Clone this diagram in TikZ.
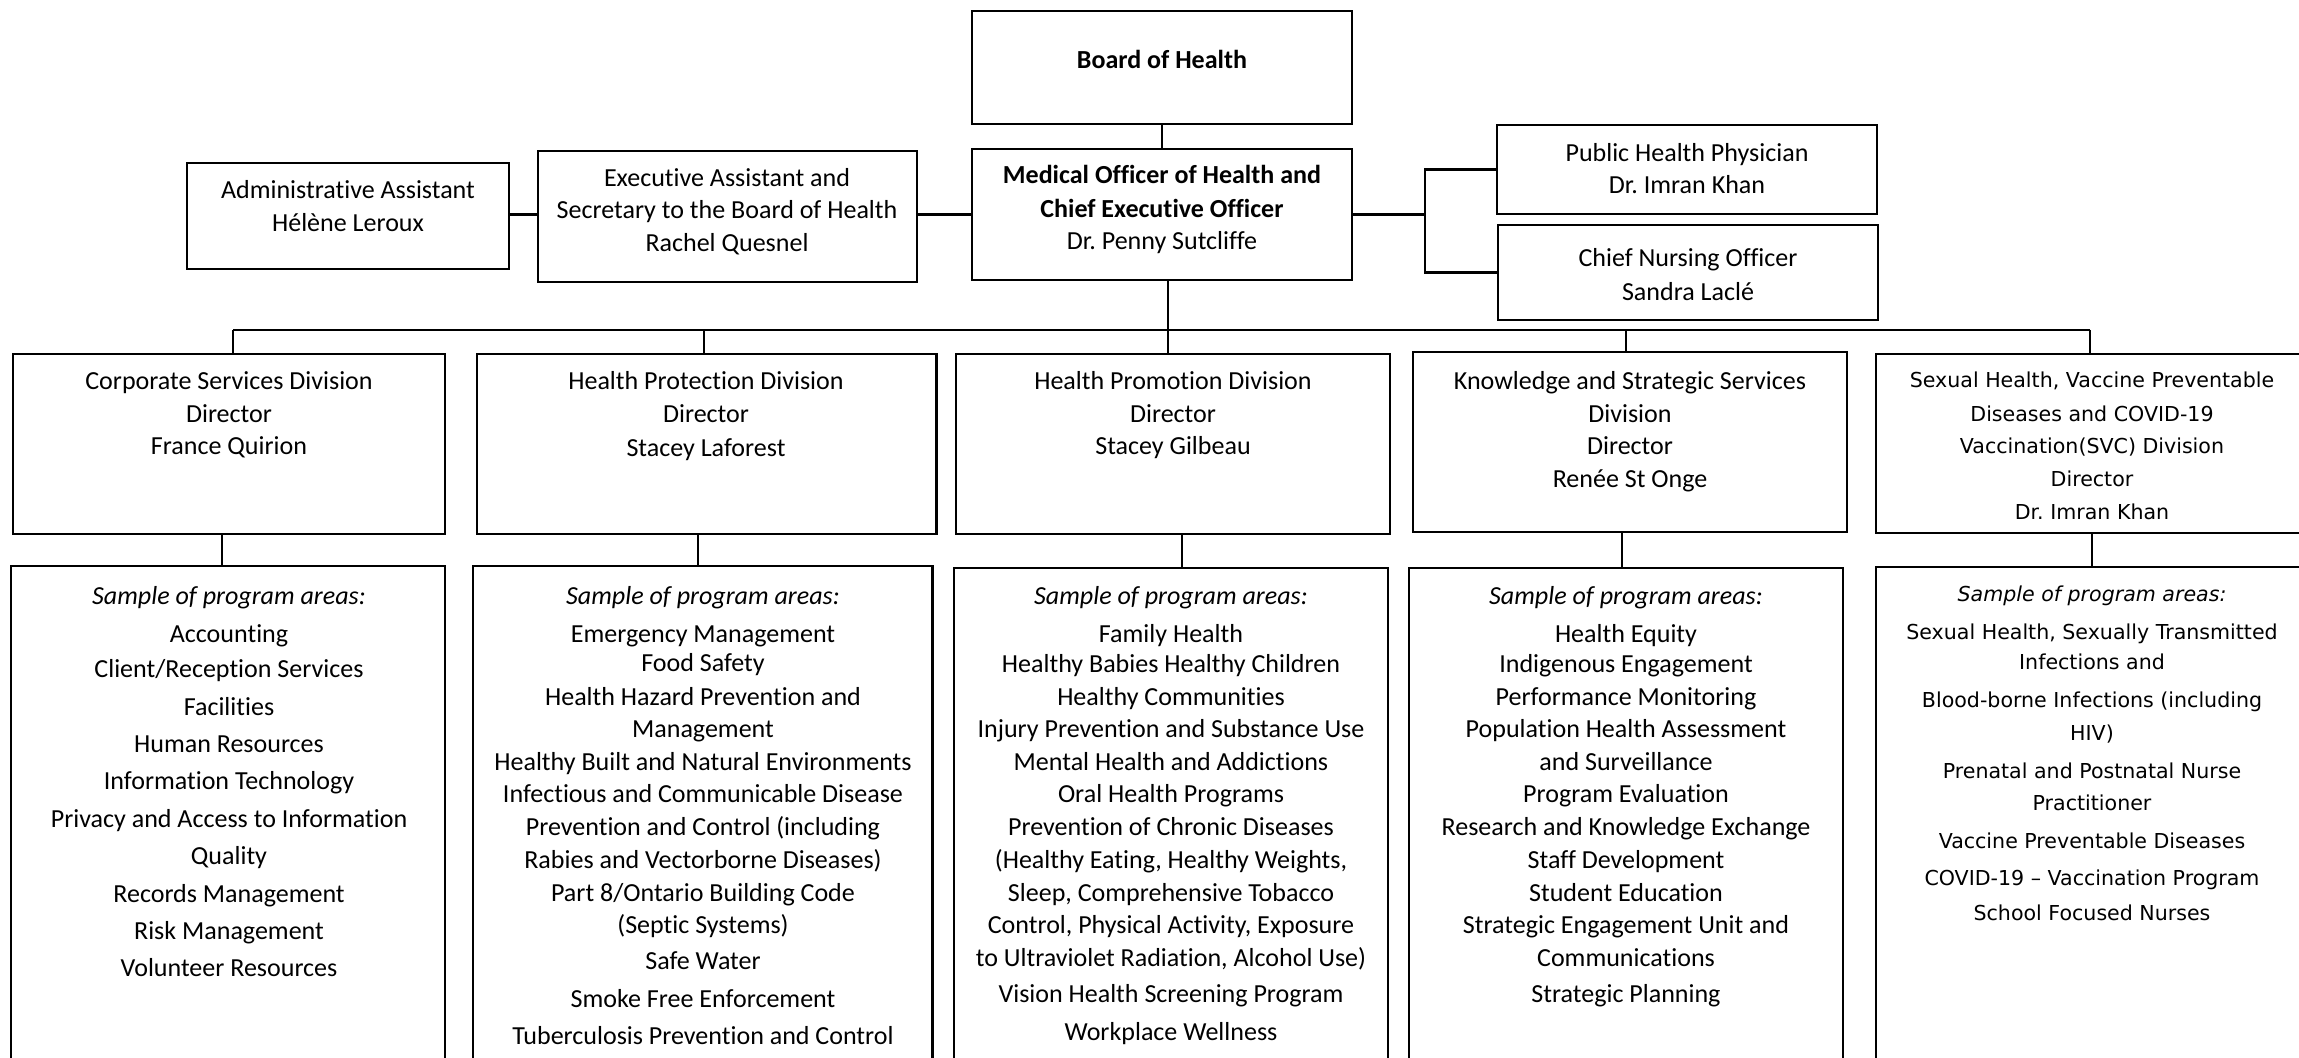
\documentclass[tikz,border=0pt]{standalone}
\usepackage{fontspec}
\setmainfont{Carlito}[Ligatures={NoCommon}]
\newfontfamily\verdfont{DejaVu Sans}
\frenchspacing
\begin{document}
\begin{tikzpicture}[x=0.01cm,y=-0.01cm,
  box/.style={draw=black,line width=0.7pt,inner sep=0pt,outer sep=0pt,anchor=north west,rectangle},
  txt/.style={inner sep=0pt,outer sep=0pt,anchor=base,yshift=-0.4pt,text=black,font=\frenchspacing\fontsize{7.4}{9}\selectfont},
  btxt/.style={txt,font=\frenchspacing\fontsize{7.4}{9}\selectfont\bfseries},
  itxt/.style={txt,font=\frenchspacing\fontsize{7.4}{9}\selectfont\itshape},
  vtxt/.style={txt,font=\frenchspacing\verdfont\fontsize{5.85}{7}\selectfont},
  vitxt/.style={txt,font=\frenchspacing\verdfont\fontsize{5.85}{7}\selectfont\itshape},
  conn/.style={line width=0.7pt,draw=black}]
\useasboundingbox (0,0) rectangle (2299,1058);
\clip (0,0) rectangle (2299,1058);
% ---------- boxes ----------
\node[box,minimum width=3.80cm,minimum height=1.13cm] (Board) at (972,11) {};
\node[box,minimum width=3.80cm,minimum height=1.31cm] (MOH) at (972,149) {};
\node[box,minimum width=3.79cm,minimum height=1.31cm] (Exec) at (538,151) {};
\node[box,minimum width=3.22cm,minimum height=1.06cm] (Admin) at (187,163) {};
\node[box,minimum width=3.80cm,minimum height=0.89cm] (PHP) at (1497,125) {};
\node[box,minimum width=3.80cm,minimum height=0.95cm] (CNO) at (1498,225) {};
\node[box,minimum width=4.32cm,minimum height=1.80cm] (CorpD) at (13,354) {};
\node[box,minimum width=4.59cm,minimum height=1.80cm] (HPD) at (477,354) {};
\node[box,minimum width=4.34cm,minimum height=1.80cm] (HPrD) at (956,354) {};
\node[box,minimum width=4.34cm,minimum height=1.80cm] (KSSD) at (1413,352) {};
\node[box,minimum width=4.32cm,minimum height=1.79cm] (SVCD) at (1876,354) {};
\node[box,minimum width=4.34cm,minimum height=5.20cm] (CorpP) at (11,566) {};
\node[box,minimum width=4.59cm,minimum height=5.20cm] (HPP) at (473,566) {};
\node[box,minimum width=4.34cm,minimum height=5.18cm] (HPrP) at (954,568) {};
\node[box,minimum width=4.34cm,minimum height=5.18cm] (KSSP) at (1409,568) {};
\node[box,minimum width=4.32cm,minimum height=5.19cm] (SVCP) at (1876,567) {};
% ---------- connectors ----------
\draw[conn] (Board.south) -- (MOH.north);
\coordinate (hl) at (MOH.west);
\draw[conn] (Admin.east |- hl) -- (Exec.west |- hl);
\draw[conn] (Exec.east |- hl) -- (MOH.west);
\coordinate (rv) at (1425,0);
\draw[conn] (MOH.east) -- (MOH.east -| rv);
\draw[conn] (PHP.west) -- (PHP.west -| rv) -- (CNO.west -| rv) -- (CNO.west);
\coordinate (b1) at (233,330);
\coordinate (b2) at (704,330);
\coordinate (b3) at (1168,330);
\coordinate (b4) at (1626,330);
\coordinate (b5) at (2090,330);
\draw[conn] (b1) -- (b5);
\draw[conn] (MOH.south -| b3) -- (b3);
\draw[conn] (b1) -- (b1 |- CorpD.north);
\draw[conn] (b2) -- (b2 |- HPD.north);
\draw[conn] (b3) -- (b3 |- HPrD.north);
\draw[conn] (b4) -- (b4 |- KSSD.north);
\draw[conn] (b5) -- (b5 |- SVCD.north);
\coordinate (c1) at (222,0);
\coordinate (c2) at (698,0);
\coordinate (c3) at (1182,0);
\coordinate (c4) at (1622,0);
\coordinate (c5) at (2092,0);
\draw[conn] (CorpD.south -| c1) -- (CorpP.north -| c1);
\draw[conn] (HPD.south -| c2) -- (HPP.north -| c2);
\draw[conn] (HPrD.south -| c3) -- (HPrP.north -| c3);
\draw[conn] (KSSD.south -| c4) -- (KSSP.north -| c4);
\draw[conn] (SVCD.south -| c5) -- (SVCP.north -| c5);
% ---------- top texts ----------
\node[btxt] (tBoard) at (1162,67) {Board of Health};
\node[txt] (tAdmin1) at (348,197) {Administrative Assistant};
\node[txt] (tAdmin2) at (348,230) {Hélène Leroux};
\node[txt] (tExec1) at (727,185) {Executive Assistant and};
\node[txt] (tExec2) at (727,217) {Secretary to the Board of Health};
\node[txt] (tExec3) at (727,250) {Rachel Quesnel};
\node[btxt] (tMOH1) at (1162,182) {Medical Officer of Health and};
\node[btxt] (tMOH2) at (1162,216) {Chief Executive Officer};
\node[txt] (tMOH3) at (1162,248) {Dr. Penny Sutcliffe};
\node[txt] (tPHP1) at (1687,160) {Public Health Physician};
\node[txt] (tPHP2) at (1687,192) {Dr. Imran Khan};
\node[txt] (tCNO1) at (1688,265) {Chief Nursing Officer};
\node[txt] (tCNO2) at (1688,299) {Sandra Laclé};
% ---------- division headers ----------
\foreach \yy/\lbl [count=\idx] in {388/Corporate Services Division,421/Director,453/France Quirion}
  \node[txt] (tCorpD\idx) at (229,\yy) {\lbl};
\foreach \yy/\lbl [count=\idx] in {388/Health Protection Division,421/Director,455/Stacey Laforest}
  \node[txt] (tHPD\idx) at (706,\yy) {\lbl};
\foreach \yy/\lbl [count=\idx] in {388/Health Promotion Division,421/Director,453/Stacey Gilbeau}
  \node[txt] (tHPrD\idx) at (1173,\yy) {\lbl};
\foreach \yy/\lbl [count=\idx] in {388/Knowledge and Strategic Services,421/Division,453/Director,486/Renée St Onge}
  \node[txt] (tKSSD\idx) at (1630,\yy) {\lbl};
\foreach \yy/\lbl [count=\idx] in {386/{Sexual Health, Vaccine Preventable},420/Diseases and COVID-19,452/Vaccination(SVC) Division,485/Director,518/Dr. Imran Khan}
  \node[vtxt] (tSVCD\idx) at (2092,\yy) {\lbl};
% ---------- program areas ----------
\node[itxt] (tCorpT) at (229,603) {Sample of program areas:};
\foreach \yy/\lbl [count=\idx] in {641/Accounting,676/{Client/Reception Services},714/Facilities,751/Human Resources,788/Information Technology,826/Privacy and Access to Information,863/Quality,901/Records Management,938/Risk Management,975/Volunteer Resources}
  \node[txt] (tCorpP\idx) at (229,\yy) {\lbl};
\node[itxt] (tHPT) at (703,603) {Sample of program areas:};
\foreach \yy/\lbl [count=\idx] in {641/Emergency Management,670/Food Safety,704/Health Hazard Prevention and,736/Management,769/Healthy Built and Natural Environments,801/Infectious and Communicable Disease,834/Prevention and Control (including,867/Rabies and Vectorborne Diseases),900/{Part 8/Ontario Building Code},932/(Septic Systems),968/Safe Water,1006/Smoke Free Enforcement,1043/Tuberculosis Prevention and Control}
  \node[txt] (tHPP\idx) at (703,\yy) {\lbl};
\node[itxt] (tHPrT) at (1171,603) {Sample of program areas:};
\foreach \yy/\lbl [count=\idx] in {641/Family Health,671/Healthy Babies Healthy Children,704/Healthy Communities,736/Injury Prevention and Substance Use,769/Mental Health and Addictions,801/Oral Health Programs,834/Prevention of Chronic Diseases,867/{(Healthy Eating, Healthy Weights,},900/{Sleep, Comprehensive Tobacco},932/{Control, Physical Activity, Exposure},965/{to Ultraviolet Radiation, Alcohol Use)},1001/Vision Health Screening Program,1039/Workplace Wellness}
  \node[txt] (tHPrP\idx) at (1171,\yy) {\lbl};
\node[itxt] (tKSST) at (1626,603) {Sample of program areas:};
\foreach \yy/\lbl [count=\idx] in {641/Health Equity,671/Indigenous Engagement,704/Performance Monitoring,736/Population Health Assessment,769/and Surveillance,801/Program Evaluation,834/Research and Knowledge Exchange,867/Staff Development,900/Student Education,932/Strategic Engagement Unit and,965/Communications,1001/Strategic Planning}
  \node[txt] (tKSSP\idx) at (1626,\yy) {\lbl};
\node[vitxt] (tSVCT) at (2092,600) {Sample of program areas:};
\foreach \yy/\lbl [count=\idx] in {638/{Sexual Health, Sexually Transmitted},668/Infections and,706/Blood-borne Infections (including,739/HIV),777/Prenatal and Postnatal Nurse,809/Practitioner,847/Vaccine Preventable Diseases,884/COVID-19 – Vaccination Program,919/School Focused Nurses}
  \node[vtxt] (tSVCP\idx) at (2092,\yy) {\lbl};
\end{tikzpicture}
\end{document}
